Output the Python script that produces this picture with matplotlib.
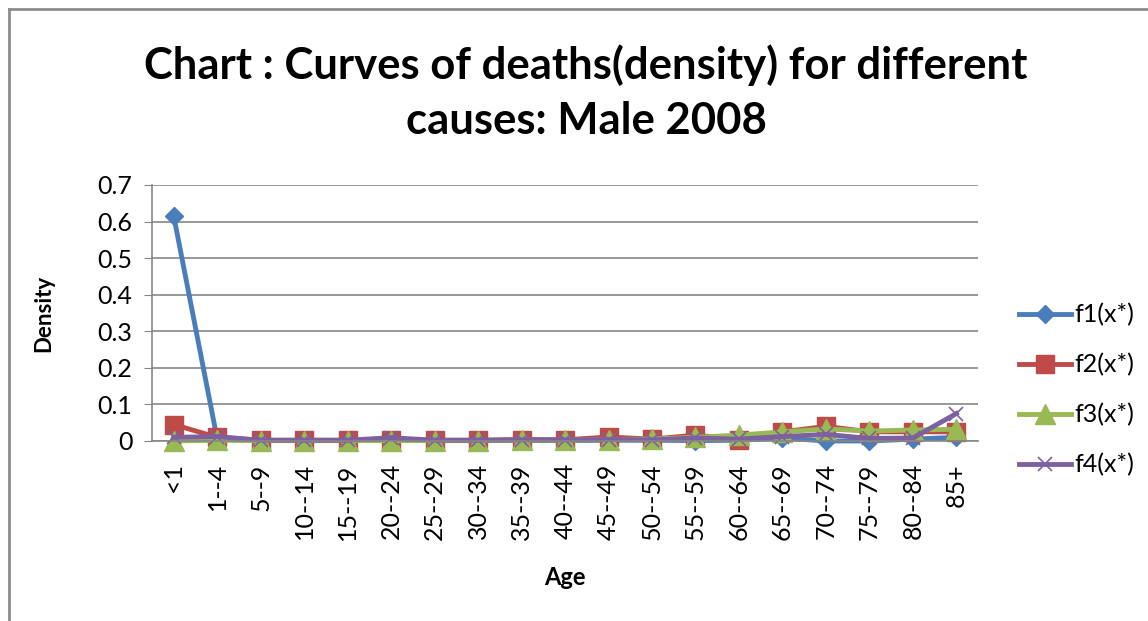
import numpy as np
import matplotlib.pyplot as plt
from matplotlib.lines import Line2D

plt.rcParams['font.family'] = ['Lato', 'DejaVu Sans']

# age groups on the x axis
ages = ['<1', '1--4', '5--9', '10--14', '15--19', '20--24', '25--29', '30--34',
        '35--39', '40--44', '45--49', '50--54', '55--59', '60--64', '65--69',
        '70--74', '75--79', '80--84', '85+']

# density values
f1 = [0.615, 0.005, 0.001, 0.001, 0.001, 0.002, 0.001, 0.001, 0.001, 0.001,
      0.002, 0.002, 0.001, 0.002, 0.008, 0.0, 0.0, 0.005, 0.010]
f2 = [0.045, 0.010, 0.002, 0.002, 0.002, 0.003, 0.002, 0.002, 0.004, 0.003,
      0.011, 0.005, 0.016, 0.004, 0.025, 0.040, 0.025, 0.025, 0.025]
f3 = [0.0, 0.002, 0.001, 0.001, 0.001, 0.001, 0.001, 0.001, 0.002, 0.002,
      0.004, 0.005, 0.010, 0.016, 0.025, 0.033, 0.027, 0.030, 0.032]
f4 = [0.010, 0.012, 0.002, 0.002, 0.002, 0.009, 0.002, 0.002, 0.003, 0.003,
      0.004, 0.003, 0.008, 0.005, 0.012, 0.018, 0.007, 0.008, 0.075]

series_names = ['f1(x*)', 'f2(x*)', 'f3(x*)', 'f4(x*)']
yticks = [0, 0.1, 0.2, 0.3, 0.4, 0.5, 0.6, 0.7]

fig = plt.figure(figsize=(11.48, 6.21), dpi=100)
ax = fig.add_axes([0.1324, 0.2899, 0.7196, 0.4122])

x = np.arange(len(ages))
ax.plot(x, f1, color='#4A7EBB', lw=3.5, marker='D', ms=9, label=series_names[0],
        clip_on=False)
ax.plot(x, f2, color='#BE4B48', lw=3.5, marker='s', ms=12.5, label=series_names[1],
        clip_on=False)
ax.plot(x, f3, color='#98B954', lw=3.5, marker='^', ms=14, label=series_names[2],
        clip_on=False)
ax.plot(x, f4, color='#7D60A0', lw=3.5, marker='x', ms=10, mew=1.2,
        label=series_names[3], clip_on=False)

ax.set_xlim(-0.5, len(ages) - 0.5)
ax.set_ylim(0, 0.7)
ax.set_yticks(yticks)
ax.set_yticklabels(['0' if v == 0 else f'{v:.1f}' for v in yticks], fontsize=18)
ax.set_xticks(x)
ax.set_xticklabels(ages, rotation=90, fontsize=18)
ax.tick_params(axis='x', length=0, pad=16)
ax.tick_params(axis='y', length=6, color='#868686', pad=8)

ax.grid(axis='y', color='#868686', lw=1.2)
ax.set_axisbelow(True)
for s in ['top', 'right']:
    ax.spines[s].set_visible(False)
for s in ['left', 'bottom']:
    ax.spines[s].set_color('#868686')
    ax.spines[s].set_linewidth(1.2)

ax.set_ylabel('Density', fontsize=16, fontweight='bold', labelpad=31)
ax.set_xlabel('Age', fontsize=17, fontweight='bold', labelpad=19)

fig.text(0.5105, 0.851, 'Chart : Curves of deaths(density) for different\ncauses: Male 2008',
         ha='center', va='center', fontsize=31.4, fontweight='bold', linespacing=1.45)

fig.legend(loc='center left', bbox_to_anchor=(996 / 1148, 1 - 390 / 621),
           frameon=False, fontsize=18, handlelength=2.1, labelspacing=1.07,
           handletextpad=0.15)

# outer chart frame (cropped on right and bottom)
fig.add_artist(Line2D([9 / 1148, 9 / 1148], [0, 1 - 9 / 621], color='#8c8c8c', lw=2))
fig.add_artist(Line2D([9 / 1148, 1], [1 - 9 / 621, 1 - 9 / 621], color='#8c8c8c', lw=2))

plt.savefig('out.png', dpi=100)
